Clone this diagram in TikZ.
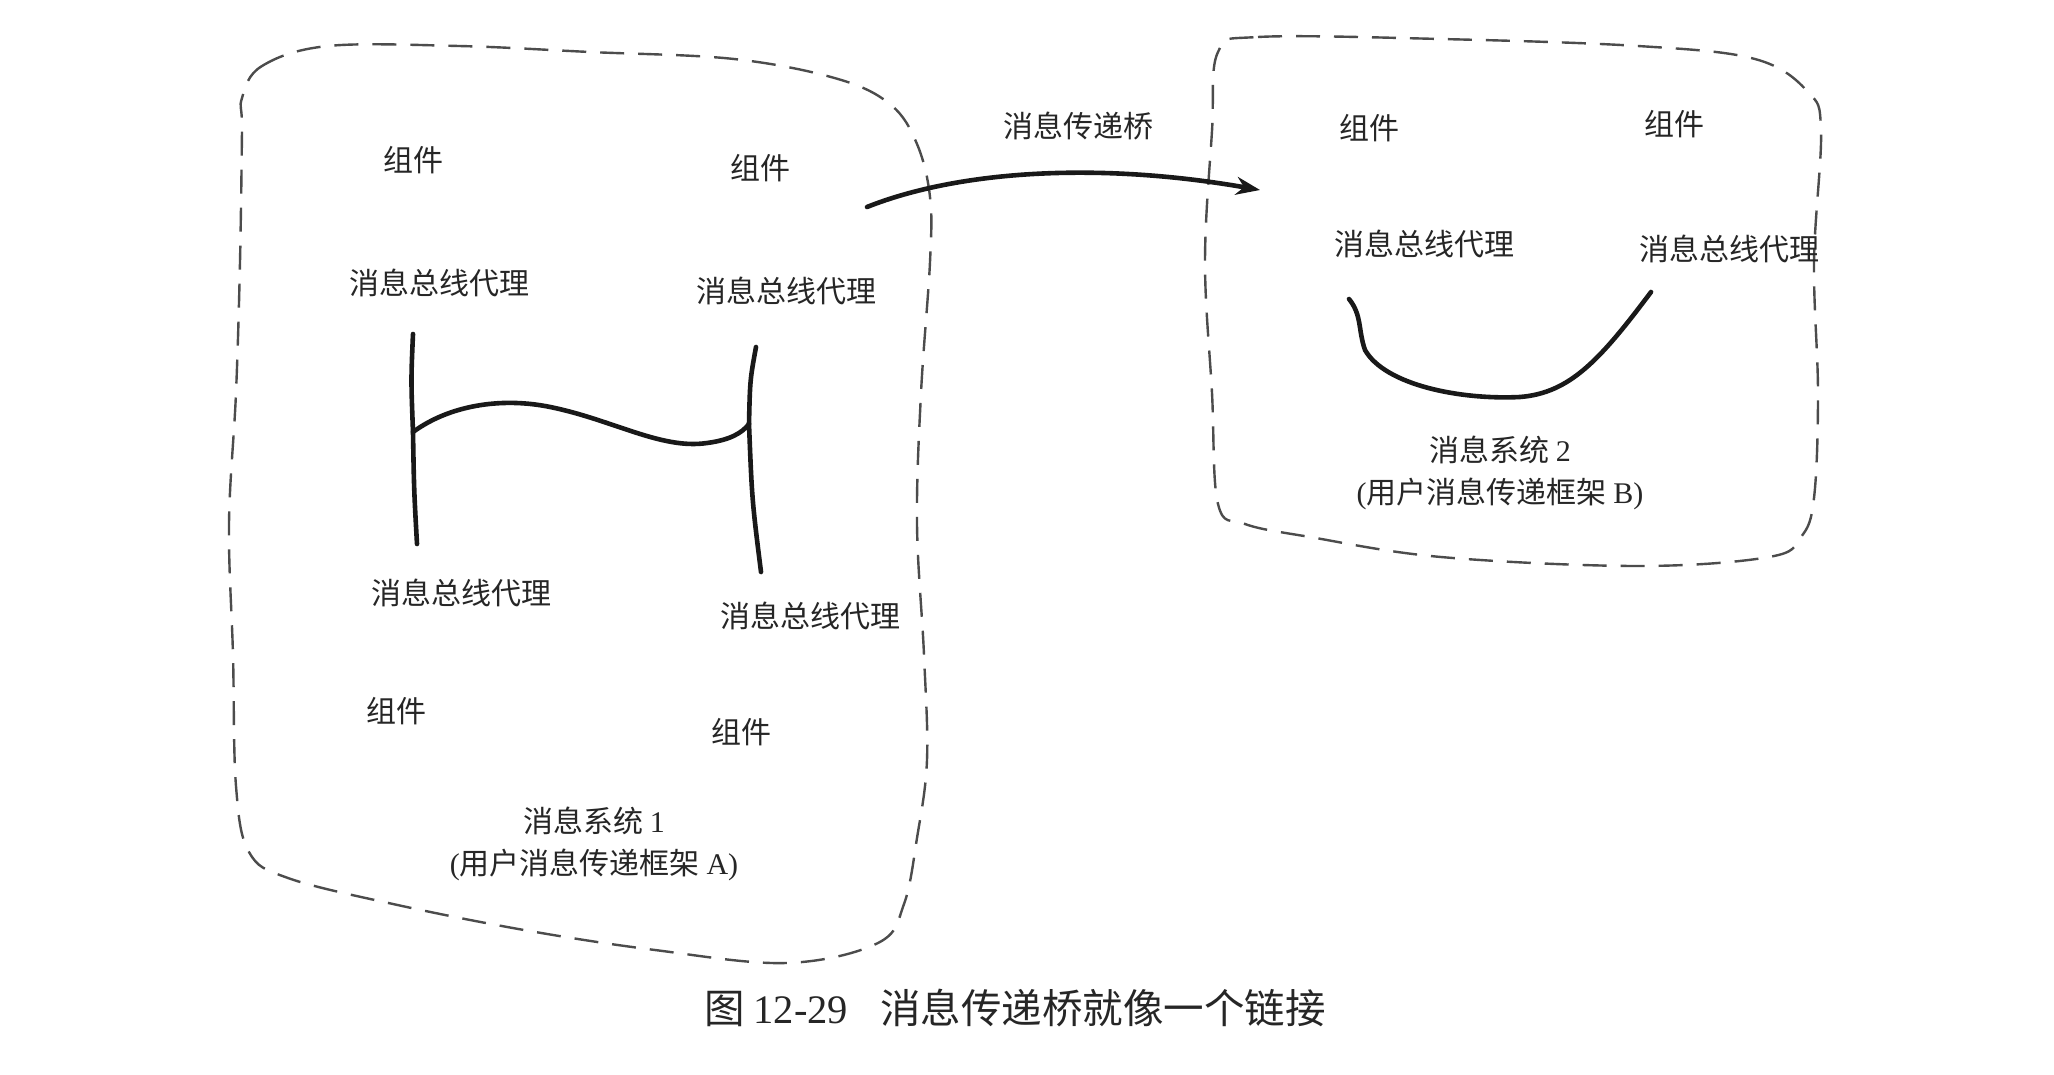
\documentclass[tikz,border=0pt]{standalone}
\usepackage{fontspec}
\setmainfont{Liberation Serif}
\newfontfamily\cjk{Noto Sans CJK SC}
\usetikzlibrary{arrows.meta}
\begin{document}
\begin{tikzpicture}[x=1pt,y=-1pt,
  lbl/.style={font=\fontsize{30}{42}\selectfont\cjk, inner sep=0pt, align=center, text=black!85},
  captxt/.style={font=\fontsize{40.5}{50}\selectfont\cjk, inner sep=0pt, text=black!85},
  blob/.style={draw=black!70, dash pattern=on 24pt off 14pt, line width=2.4pt},
  wire/.style={line width=4.6pt, line cap=round, line join=round, black!90},
]
\useasboundingbox[fill=white] (0,0) rectangle (2054,1074);

% ---------- system 1 ----------
\draw[blob] plot[smooth cycle, tension=0.6] coordinates {
 (242,98) (262,66) (328,46) (459,46) (590,52) (734,59) (838,79) (891,105) (917,144)
 (930,197) (930,262) (921,393) (917,524) (924,655) (927,760) (917,838) (904,904)
 (878,943) (786,963) (655,950) (524,930) (393,904) (288,878) (249,852) (236,786)
 (233,655) (229,524) (236,393) (240,262) (242,131)};

\node[lbl] (c1) at (413,160) {组件};
\node[lbl] (c2) at (760,168) {组件};
\node[lbl] (a1) at (439,283) {消息总线代理};
\node[lbl] (a2) at (786,291) {消息总线代理};
\node[lbl] (a3) at (461,593) {消息总线代理};
\node[lbl] (a4) at (810,616) {消息总线代理};
\node[lbl] (c3) at (396,711) {组件};
\node[lbl] (c4) at (741,732) {组件};
\node[lbl] (s1) at (594,844) {消息系统 {\rmfamily 1}\\{\rmfamily (}用户消息传递框架 {\rmfamily A)}};

\coordinate (l1t) at (413,334);
\coordinate (l1j) at (413,432);
\coordinate (l1b) at (417,544);
\coordinate (l2t) at (756,347);
\coordinate (l2j) at (749,424);
\coordinate (l2b) at (761,572);
\draw[wire] (l1t) .. controls (411,380) .. (l1j) .. controls (414,490) .. (l1b);
\draw[wire] (l2t) .. controls (750,380) .. (l2j) .. controls (752,500) .. (l2b);
\draw[wire] (l1j) .. controls (450,405) and (500,398) .. (545,406)
  .. controls (610,418) and (660,450) .. (707,443)
  .. controls (730,440) and (742,433) .. (l2j);

% ---------- system 2 ----------
\draw[blob] plot[smooth cycle, tension=0.6] coordinates {
 (1218,52) (1258,37) (1441,39) (1638,46) (1755,59) (1808,92) (1821,131) (1814,262)
 (1818,393) (1814,498) (1801,537) (1769,557) (1638,566) (1441,557) (1310,537)
 (1245,524) (1218,504) (1212,393) (1205,262) (1212,131)};

\node[lbl] (c5) at (1369,128) {组件};
\node[lbl] (c6) at (1674,124) {组件};
\node[lbl] (a5) at (1424,244) {消息总线代理};
\node[lbl] (a6) at (1729,249) {消息总线代理};
\node[lbl] (s2) at (1500,473) {消息系统 {\rmfamily 2}\\{\rmfamily (}用户消息传递框架 {\rmfamily B)}};

\coordinate (r1) at (1349,299);
\coordinate (r2) at (1651,292);
\draw[wire] (r1) .. controls (1362,315) and (1358,330) .. (1365,350)
  .. controls (1385,385) and (1460,400) .. (1520,397)
  .. controls (1570,393) and (1600,360) .. (r2);

% ---------- bridge ----------
\coordinate (b0) at (867,207);
\coordinate (b1) at (1260,190);
\draw[wire, -{Stealth[length=24pt,width=18pt]}] (b0) .. controls (960,170) and (1100,162) .. (b1);
\node[lbl] (bl) at (1078,126) {消息传递桥};

% ---------- caption ----------
\node[captxt] (capt) at (1015,1008) {图 {\rmfamily 12-29}\hspace{0.8em}消息传递桥就像一个链接};
\end{tikzpicture}
\end{document}
